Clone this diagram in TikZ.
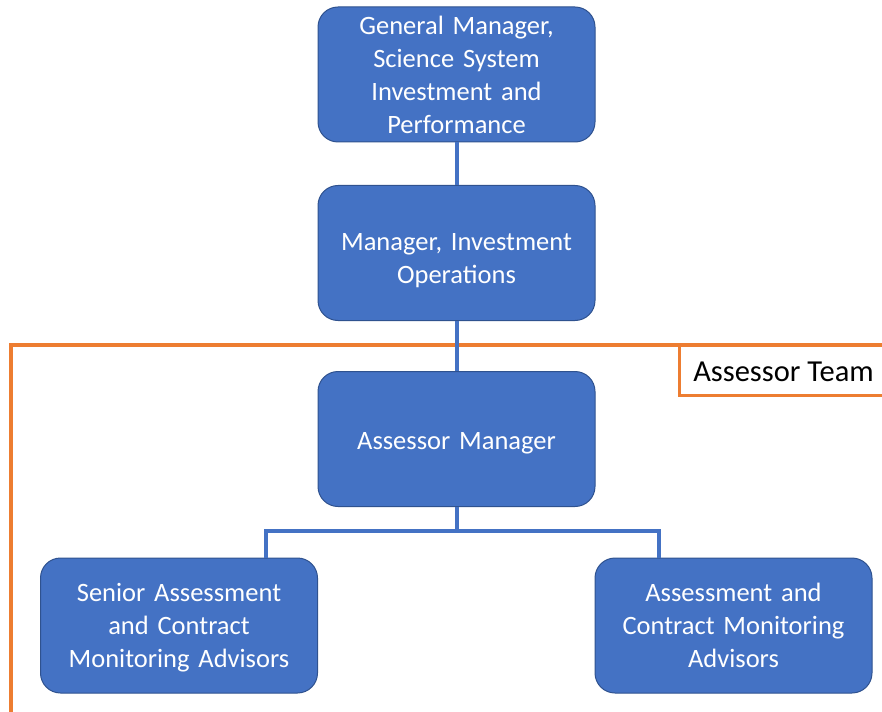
\documentclass[tikz,border=0pt]{standalone}
\usepackage{fontspec}
\setmainfont{Carlito}
\definecolor{boxblue}{HTML}{4472C4}
\definecolor{boxedge}{HTML}{2F528F}
\definecolor{frameorange}{HTML}{ED7D31}
\tikzset{
  orgbox/.style={draw=boxedge, line width=1pt, fill=boxblue, rounded corners=20pt,
    minimum width=277pt, minimum height=135pt, text width=265pt, align=center,
    text=white, font=\fontsize{26.5}{33}\selectfont, inner sep=0pt},
  link/.style={draw=boxblue, line width=4pt},
  frame/.style={draw=frameorange, line width=4pt},
}
\begin{document}
\begin{tikzpicture}[x=1pt,y=-1pt]
\useasboundingbox (0,0) rectangle (882,711);
% orange frame
\coordinate (fbl) at (11,713);
\coordinate (ftl) at (11,345);
\coordinate (ftr) at (884,345);
\draw[frame] (fbl) -- (ftl) -- (ftr);
\coordinate (tl) at (679,345);
\coordinate (tb) at (679,395);
\coordinate (tr) at (884,395);
\draw[draw=frameorange, line width=3pt] (tl) -- (tb) -- (tr);
\node[font=\fontsize{30.5}{30}\selectfont, text=black, anchor=center] (team) at (783.5,372) {Assessor Team};
% boxes
\node[orgbox] (gm) at (456.5,74.5) {General Manager,\\ Science System\\ Investment and\\ Performance};
\node[orgbox] (mio) at (456.5,253) {\rule{0pt}{33pt}Manager, Investment\\ Operations};
\node[orgbox] (am) at (456.5,439) {\rule{0pt}{26pt}Assessor Manager};
\node[orgbox] (sa) at (179,625.5) {\rule{0pt}{23pt}Senior Assessment\\ and Contract\\ Monitoring Advisors};
\node[orgbox] (ac) at (733.5,625.5) {Assessment and\\ Contract Monitoring\\ Advisors};
% connectors
\draw[link] (gm.south) -- (mio.north);
\draw[link] (mio.south) -- (am.north);
\coordinate (hub) at (456.5,531);
\coordinate (saTop) at (266,558);
\coordinate (acTop) at (659,558);
\draw[link] (am.south) -- (hub);
\draw[link] (saTop) |- (hub) -| (acTop);
\end{tikzpicture}
\end{document}
